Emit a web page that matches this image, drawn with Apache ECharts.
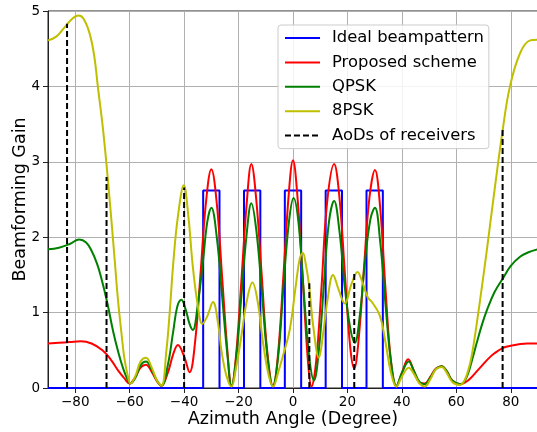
<!DOCTYPE html>
<html>
<head>
<meta charset="utf-8">
<script src="https://cdn.jsdelivr.net/npm/echarts@6/dist/echarts.min.js"></script>
<style>html,body{margin:0;padding:0;background:#fff}#c{width:537px;height:432px}</style>
</head>
<body>
<div id="c"></div>
<script>
// ---- data ----
const seriesNames = ['Ideal beampattern', 'Proposed scheme', 'QPSK', '8PSK', 'AoDs of receivers'];
const xTicks = [-80, -60, -40, -20, 0, 20, 40, 60, 80];
const yTicks = [0, 1, 2, 3, 4, 5];

const idealX = [-90,-33,-33,-27,-27,-18,-18,-12,-12,-3,-3,3,3,12,12,18,18,27,27,33,33,90];
const idealY = [0,0,2.62,2.62,0,0,2.62,2.62,0,0,2.62,2.62,0,0,2.62,2.62,0,0,2.62,2.62,0,0];

const propX = [-90,-86,-82,-78,-74,-70,-67,-64,-62,-60,-58,-56,-54,-52,-50,-48.4,-46,-44,-42.3,-40,-38,-36,-34,-32,-30,-28,-26,-24,-22.6,-21,-19,-17,-15.3,-13.5,-11.5,-9.5,-7.3,-5.5,-3.5,-1.5,0,1.5,3.5,5.5,6.8,8.5,10.5,12.5,15.1,17,19,21,22.5,24,26,28,30.1,32,34,36,38,40,42.3,44.5,46.5,48.4,50.5,52.5,54.6,56.5,58.5,61.3,63.5,65.5,67.5,69.5,71.5,74,77,80,83,86,90];
const propY = [0.59,0.60,0.61,0.62,0.59,0.50,0.38,0.22,0.13,0.06,0.14,0.27,0.31,0.22,0.09,0.03,0.20,0.45,0.57,0.42,0.21,0.60,1.50,2.45,2.90,2.45,1.45,0.45,0.02,0.40,1.40,2.45,2.97,2.50,1.50,0.50,0.02,0.45,1.50,2.60,3.02,2.60,1.50,0.35,0.02,0.35,1.35,2.45,2.97,2.55,1.55,0.55,0.26,0.60,1.55,2.50,2.89,2.40,1.30,0.35,0.02,0.20,0.38,0.22,0.07,0.06,0.15,0.26,0.29,0.22,0.10,0.05,0.08,0.14,0.22,0.30,0.38,0.46,0.53,0.56,0.58,0.59,0.59];

const qpskX = [-90,-86,-82,-78.5,-76,-74,-72,-70.5,-68.4,-66,-64,-62.5,-61,-59.7,-58,-56,-54,-52,-50,-48.3,-46,-44,-42.5,-41,-39.5,-38,-36.8,-35,-33,-31.5,-30,-28,-26,-24,-22.6,-21,-19,-17,-15.3,-13.5,-11.5,-9.5,-7.5,-5.5,-3.5,-1.5,0.2,2,4,6,7.7,9.5,11.5,13.2,15.1,17,19,21,22.7,24.5,26.5,28.5,30.1,32,34,36,38,40,42.5,44.5,46.5,48.4,50.5,52.5,54.6,56.5,58.5,61.5,63,64.4,66,67.5,69.5,71.1,74,77.2,80,83.4,86.5,90];
const qpskY = [1.84,1.86,1.91,1.97,1.93,1.82,1.65,1.47,1.16,0.74,0.45,0.27,0.13,0.06,0.13,0.30,0.35,0.25,0.10,0.03,0.30,0.75,1.08,1.17,1.05,0.85,0.77,1.10,1.70,2.20,2.39,2.00,1.20,0.40,0.03,0.35,1.20,2.05,2.45,2.10,1.30,0.45,0.03,0.40,1.35,2.20,2.52,2.20,1.25,0.40,0.10,0.50,1.45,2.20,2.48,2.10,1.35,0.80,0.60,0.95,1.70,2.25,2.39,1.95,1.10,0.35,0.03,0.20,0.35,0.22,0.08,0.05,0.14,0.25,0.29,0.22,0.10,0.05,0.09,0.20,0.40,0.60,0.85,1.02,1.27,1.46,1.62,1.74,1.80,1.84];

const psk8X = [-90,-87,-84,-81,-78.8,-77,-74.7,-73,-71.7,-70,-68.6,-67,-65.5,-64.4,-63,-62,-60.8,-59.7,-58,-56,-54,-52,-50,-48.3,-46.5,-45.3,-44,-42.3,-40.1,-38.5,-36.8,-35,-33.3,-31.5,-29.4,-27.5,-26.3,-24.5,-22.6,-21,-19,-17,-14.9,-13,-11,-9,-7.3,-5.5,-3.5,-1.2,1,2.5,3.6,4.8,5.8,7.5,9.5,11,12.8,14.7,16.8,19,21.5,23.7,25.5,27.5,29,31.9,34,36,38,40,42.5,44.5,46.5,48.4,50.5,52.5,54.6,56.5,58.5,61.3,63,64.5,65.6,67,68.7,71.1,74.2,77.1,79.7,83.4,87.1,90];
const psk8Y = [4.61,4.66,4.78,4.90,4.94,4.90,4.70,4.40,4.00,3.50,3.00,2.35,1.70,1.21,0.72,0.41,0.18,0.06,0.15,0.35,0.40,0.28,0.10,0.03,0.50,1.00,1.65,2.27,2.69,2.30,1.61,1.10,0.85,0.95,1.14,0.85,0.50,0.17,0.02,0.25,0.68,1.15,1.40,1.15,0.60,0.18,0.02,0.20,0.45,0.77,1.35,1.72,1.79,1.62,1.39,0.80,0.40,0.70,1.20,1.50,1.30,1.12,1.38,1.54,1.40,1.20,1.14,0.96,0.60,0.20,0.02,0.15,0.27,0.18,0.06,0.02,0.12,0.25,0.28,0.20,0.08,0.04,0.10,0.25,0.42,0.73,1.16,1.80,2.67,3.44,4.00,4.44,4.61,4.62];

const aodX = [-83, -68.5, -40, 6, 22.5, 77];
const aodY = [4.83, 2.80, 2.66, 1.39, 1.53, 3.44];

// ---- build ----
const zip = (xs, ys) => xs.map((x, i) => [x, ys[i]]);
const aodData = [];
aodX.forEach((x, i) => { aodData.push([x, 0], [x, aodY[i]], [x, '-']); });

const FONT = 'DejaVu Sans';
const chart = echarts.init(document.getElementById('c'), null, {renderer: 'canvas'});
const line = (name, data, color, extra) => Object.assign({
  name, type: 'line', data, showSymbol: false, symbol: 'none',
  lineStyle: {color, width: 2}, itemStyle: {color}, animation: false
}, extra || {});

chart.setOption({
  animation: false,
  backgroundColor: '#fff',
  grid: {left: 48, top: 11, width: 490, height: 377, containLabel: false, outerBoundsMode: 'none',
    show: true, borderColor: '#222', borderWidth: 1, backgroundColor: 'transparent'},
  xAxis: {
    type: 'value', min: -90, max: 90, interval: 10,
    name: 'Azimuth Angle (Degree)', nameLocation: 'middle', nameGap: 22, nameMoveOverlap: false,
    nameTextStyle: {fontFamily: FONT, fontSize: 17.5, color: '#000'},
    axisLine: {show: true, onZero: false, lineStyle: {color: '#222', width: 1}},
    axisTick: {show: true, length: 5, inside: false, customValues: xTicks, lineStyle: {color: '#222', width: 1}},
    axisLabel: {
      fontFamily: FONT, fontSize: 13.5, color: '#000', margin: 7,
      customValues: xTicks,
      formatter: v => (xTicks.indexOf(v) >= 0 ? String(v).replace('-', '\u2212') : '')
    },
    splitLine: {show: true, lineStyle: {color: '#b0b0b0', width: 1}}
  },
  yAxis: {
    type: 'value', min: 0, max: 5, interval: 1,
    name: 'Beamforming Gain', nameLocation: 'middle', nameGap: 19, nameMoveOverlap: false,
    nameTextStyle: {fontFamily: FONT, fontSize: 17.5, color: '#000'},
    axisLine: {show: true, onZero: false, lineStyle: {color: '#222', width: 1}},
    axisTick: {show: true, length: 5, lineStyle: {color: '#222', width: 1}},
    axisLabel: {fontFamily: FONT, fontSize: 13.5, color: '#000', margin: 8,
      formatter: v => (yTicks.indexOf(v) >= 0 ? String(v) : '')},
    splitLine: {show: true, lineStyle: {color: '#b0b0b0', width: 1}}
  },
  legend: {
    data: seriesNames, orient: 'vertical', left: 278, top: 25,
    padding: [3, 5, 3, 6], itemWidth: 35, itemHeight: 3, itemGap: 4.4,
    itemStyle: {opacity: 0},
    backgroundColor: 'rgba(255,255,255,0.85)', borderColor: '#cccccc', borderWidth: 1, borderRadius: 3,
    textStyle: {fontFamily: FONT, fontSize: 16.4, color: '#000', lineHeight: 20, padding: [0, 0, 0, 7]},
    selectedMode: false
  },
  series: [
    line(seriesNames[0], zip(idealX, idealY), '#0000ff', {smooth: false}),
    line(seriesNames[1], zip(propX, propY), '#ff0000', {smooth: 0.4}),
    line(seriesNames[2], zip(qpskX, qpskY), '#008000', {smooth: 0.4}),
    line(seriesNames[3], zip(psk8X, psk8Y), '#bfbf00', {smooth: 0.4}),
    line(seriesNames[4], aodData, '#000000', {smooth: false, connectNulls: false,
      lineStyle: {color: '#000', width: 2, type: [6, 3]}})
  ]
});
</script>
</body>
</html>
